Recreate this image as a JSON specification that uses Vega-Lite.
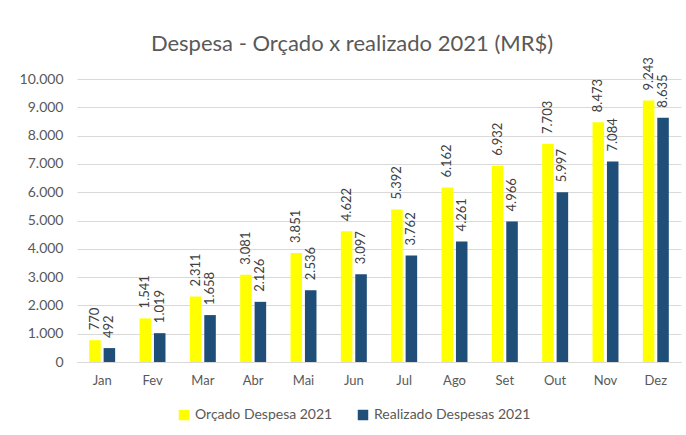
{
  "$schema": "https://vega.github.io/schema/vega-lite/v6.json",
  "autosize": "none",
  "width": 604,
  "height": 283,
  "padding": {"left": 77, "top": 79, "right": 5, "bottom": 73},
  "background": "white",
  "config": {
    "locale": {"number": {"decimal": ",", "thousands": ".", "grouping": [3], "currency": ["R$", ""]}},
    "font": "Lato, sans-serif",
    "view": {"stroke": null},
    "title": {"fontSize": 22, "fontWeight": "normal", "color": "#595959", "offset": 1, "anchor": "middle"}
  },
  "title": {"text": "Despesa - Orçado x realizado 2021 (MR$)", "dx": -27},
  "data": {
    "values": [
      {"mes": "Jan", "serie": "Orçado Despesa 2021", "valor": 770},
      {"mes": "Jan", "serie": "Realizado Despesas 2021", "valor": 492},
      {"mes": "Fev", "serie": "Orçado Despesa 2021", "valor": 1541},
      {"mes": "Fev", "serie": "Realizado Despesas 2021", "valor": 1019},
      {"mes": "Mar", "serie": "Orçado Despesa 2021", "valor": 2311},
      {"mes": "Mar", "serie": "Realizado Despesas 2021", "valor": 1658},
      {"mes": "Abr", "serie": "Orçado Despesa 2021", "valor": 3081},
      {"mes": "Abr", "serie": "Realizado Despesas 2021", "valor": 2126},
      {"mes": "Mai", "serie": "Orçado Despesa 2021", "valor": 3851},
      {"mes": "Mai", "serie": "Realizado Despesas 2021", "valor": 2536},
      {"mes": "Jun", "serie": "Orçado Despesa 2021", "valor": 4622},
      {"mes": "Jun", "serie": "Realizado Despesas 2021", "valor": 3097},
      {"mes": "Jul", "serie": "Orçado Despesa 2021", "valor": 5392},
      {"mes": "Jul", "serie": "Realizado Despesas 2021", "valor": 3762},
      {"mes": "Ago", "serie": "Orçado Despesa 2021", "valor": 6162},
      {"mes": "Ago", "serie": "Realizado Despesas 2021", "valor": 4261},
      {"mes": "Set", "serie": "Orçado Despesa 2021", "valor": 6932},
      {"mes": "Set", "serie": "Realizado Despesas 2021", "valor": 4966},
      {"mes": "Out", "serie": "Orçado Despesa 2021", "valor": 7703},
      {"mes": "Out", "serie": "Realizado Despesas 2021", "valor": 5997},
      {"mes": "Nov", "serie": "Orçado Despesa 2021", "valor": 8473},
      {"mes": "Nov", "serie": "Realizado Despesas 2021", "valor": 7084},
      {"mes": "Dez", "serie": "Orçado Despesa 2021", "valor": 9243},
      {"mes": "Dez", "serie": "Realizado Despesas 2021", "valor": 8635}
    ]
  },
  "encoding": {
    "x": {
      "field": "mes", "type": "nominal", "sort": null,
      "scale": {"paddingInner": 0.484, "paddingOuter": 0.242},
      "axis": {"title": null, "labelAngle": 0, "labelFontSize": 13, "labelColor": "#595959", "labelPadding": 12, "ticks": false, "domainColor": "#d9d9d9"}
    },
    "xOffset": {"field": "serie", "type": "nominal", "scale": {"paddingInner": 0.2}},
    "y": {
      "field": "valor", "type": "quantitative",
      "scale": {"domain": [0, 10000]},
      "axis": {"title": null, "values": [0, 1000, 2000, 3000, 4000, 5000, 6000, 7000, 8000, 9000, 10000], "format": ",.0f", "labelFontSize": 14, "labelColor": "#595959", "labelPadding": 14, "ticks": false, "domain": false, "gridColor": "#d9d9d9"}
    }
  },
  "layer": [
    {
      "mark": {"type": "bar"},
      "encoding": {
        "color": {
          "field": "serie", "type": "nominal",
          "scale": {"range": ["#FFFF00", "#1F4E79"]},
          "legend": {"title": null, "orient": "none", "legendX": 100, "legendY": 329, "direction": "horizontal", "symbolType": "square", "symbolSize": 110, "symbolStrokeWidth": 0, "symbolOpacity": 1, "labelFontSize": 14, "labelColor": "#595959", "columnPadding": 23, "labelOffset": 4}
        }
      }
    },
    {
      "mark": {"type": "text", "angle": 270, "align": "left", "baseline": "middle", "dx": 10, "fontSize": 13, "color": "#404040"},
      "encoding": {
        "text": {"field": "valor", "type": "quantitative", "format": ",.0f"}
      }
    }
  ]
}
